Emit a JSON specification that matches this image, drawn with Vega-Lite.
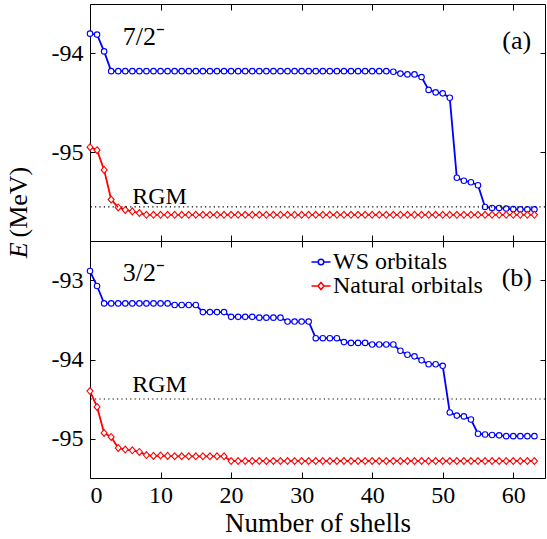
{
  "$schema": "https://vega.github.io/schema/vega-lite/v6.json",
  "autosize": {"type": "pad"},
  "padding": {"left": 5, "top": 3, "right": 0, "bottom": 0},
  "bounds": "flush",
  "spacing": 0,
  "datasets": {
    "a": [
      {"s":"WS orbitals","n":0,"E":-93.8},{"s":"WS orbitals","n":1,"E":-93.81},{"s":"WS orbitals","n":2,"E":-93.98},{"s":"WS orbitals","n":3,"E":-94.18},
      {"s":"WS orbitals","n":4,"E":-94.18},{"s":"WS orbitals","n":5,"E":-94.18},{"s":"WS orbitals","n":6,"E":-94.18},{"s":"WS orbitals","n":7,"E":-94.18},
      {"s":"WS orbitals","n":8,"E":-94.18},{"s":"WS orbitals","n":9,"E":-94.18},{"s":"WS orbitals","n":10,"E":-94.18},{"s":"WS orbitals","n":11,"E":-94.18},
      {"s":"WS orbitals","n":12,"E":-94.18},{"s":"WS orbitals","n":13,"E":-94.18},{"s":"WS orbitals","n":14,"E":-94.18},{"s":"WS orbitals","n":15,"E":-94.18},
      {"s":"WS orbitals","n":16,"E":-94.18},{"s":"WS orbitals","n":17,"E":-94.18},{"s":"WS orbitals","n":18,"E":-94.18},{"s":"WS orbitals","n":19,"E":-94.18},
      {"s":"WS orbitals","n":20,"E":-94.18},{"s":"WS orbitals","n":21,"E":-94.18},{"s":"WS orbitals","n":22,"E":-94.18},{"s":"WS orbitals","n":23,"E":-94.18},
      {"s":"WS orbitals","n":24,"E":-94.18},{"s":"WS orbitals","n":25,"E":-94.18},{"s":"WS orbitals","n":26,"E":-94.18},{"s":"WS orbitals","n":27,"E":-94.18},
      {"s":"WS orbitals","n":28,"E":-94.18},{"s":"WS orbitals","n":29,"E":-94.18},{"s":"WS orbitals","n":30,"E":-94.18},{"s":"WS orbitals","n":31,"E":-94.18},
      {"s":"WS orbitals","n":32,"E":-94.18},{"s":"WS orbitals","n":33,"E":-94.18},{"s":"WS orbitals","n":34,"E":-94.18},{"s":"WS orbitals","n":35,"E":-94.18},
      {"s":"WS orbitals","n":36,"E":-94.18},{"s":"WS orbitals","n":37,"E":-94.18},{"s":"WS orbitals","n":38,"E":-94.18},{"s":"WS orbitals","n":39,"E":-94.18},
      {"s":"WS orbitals","n":40,"E":-94.18},{"s":"WS orbitals","n":41,"E":-94.18},{"s":"WS orbitals","n":42,"E":-94.18},{"s":"WS orbitals","n":43,"E":-94.186},
      {"s":"WS orbitals","n":44,"E":-94.205},{"s":"WS orbitals","n":45,"E":-94.213},{"s":"WS orbitals","n":46,"E":-94.213},{"s":"WS orbitals","n":47,"E":-94.24},
      {"s":"WS orbitals","n":48,"E":-94.37},{"s":"WS orbitals","n":49,"E":-94.395},{"s":"WS orbitals","n":50,"E":-94.405},{"s":"WS orbitals","n":51,"E":-94.45},
      {"s":"WS orbitals","n":52,"E":-95.26},{"s":"WS orbitals","n":53,"E":-95.29},{"s":"WS orbitals","n":54,"E":-95.305},{"s":"WS orbitals","n":55,"E":-95.335},
      {"s":"WS orbitals","n":56,"E":-95.555},{"s":"WS orbitals","n":57,"E":-95.565},{"s":"WS orbitals","n":58,"E":-95.565},{"s":"WS orbitals","n":59,"E":-95.572},
      {"s":"WS orbitals","n":60,"E":-95.577},{"s":"WS orbitals","n":61,"E":-95.58},{"s":"WS orbitals","n":62,"E":-95.58},{"s":"WS orbitals","n":63,"E":-95.58},
      {"s":"Natural orbitals","n":0,"E":-94.95},{"s":"Natural orbitals","n":1,"E":-94.98},{"s":"Natural orbitals","n":2,"E":-95.18},{"s":"Natural orbitals","n":3,"E":-95.48},
      {"s":"Natural orbitals","n":4,"E":-95.56},{"s":"Natural orbitals","n":5,"E":-95.585},{"s":"Natural orbitals","n":6,"E":-95.6},{"s":"Natural orbitals","n":7,"E":-95.617},
      {"s":"Natural orbitals","n":8,"E":-95.635},{"s":"Natural orbitals","n":9,"E":-95.635},{"s":"Natural orbitals","n":10,"E":-95.635},{"s":"Natural orbitals","n":11,"E":-95.635},
      {"s":"Natural orbitals","n":12,"E":-95.635},{"s":"Natural orbitals","n":13,"E":-95.635},{"s":"Natural orbitals","n":14,"E":-95.635},{"s":"Natural orbitals","n":15,"E":-95.635},
      {"s":"Natural orbitals","n":16,"E":-95.635},{"s":"Natural orbitals","n":17,"E":-95.635},{"s":"Natural orbitals","n":18,"E":-95.635},{"s":"Natural orbitals","n":19,"E":-95.635},
      {"s":"Natural orbitals","n":20,"E":-95.635},{"s":"Natural orbitals","n":21,"E":-95.635},{"s":"Natural orbitals","n":22,"E":-95.635},{"s":"Natural orbitals","n":23,"E":-95.635},
      {"s":"Natural orbitals","n":24,"E":-95.635},{"s":"Natural orbitals","n":25,"E":-95.635},{"s":"Natural orbitals","n":26,"E":-95.635},{"s":"Natural orbitals","n":27,"E":-95.635},
      {"s":"Natural orbitals","n":28,"E":-95.635},{"s":"Natural orbitals","n":29,"E":-95.635},{"s":"Natural orbitals","n":30,"E":-95.635},{"s":"Natural orbitals","n":31,"E":-95.635},
      {"s":"Natural orbitals","n":32,"E":-95.635},{"s":"Natural orbitals","n":33,"E":-95.635},{"s":"Natural orbitals","n":34,"E":-95.635},{"s":"Natural orbitals","n":35,"E":-95.635},
      {"s":"Natural orbitals","n":36,"E":-95.635},{"s":"Natural orbitals","n":37,"E":-95.635},{"s":"Natural orbitals","n":38,"E":-95.635},{"s":"Natural orbitals","n":39,"E":-95.635},
      {"s":"Natural orbitals","n":40,"E":-95.635},{"s":"Natural orbitals","n":41,"E":-95.635},{"s":"Natural orbitals","n":42,"E":-95.635},{"s":"Natural orbitals","n":43,"E":-95.635},
      {"s":"Natural orbitals","n":44,"E":-95.635},{"s":"Natural orbitals","n":45,"E":-95.635},{"s":"Natural orbitals","n":46,"E":-95.635},{"s":"Natural orbitals","n":47,"E":-95.635},
      {"s":"Natural orbitals","n":48,"E":-95.635},{"s":"Natural orbitals","n":49,"E":-95.635},{"s":"Natural orbitals","n":50,"E":-95.635},{"s":"Natural orbitals","n":51,"E":-95.635},
      {"s":"Natural orbitals","n":52,"E":-95.635},{"s":"Natural orbitals","n":53,"E":-95.635},{"s":"Natural orbitals","n":54,"E":-95.635},{"s":"Natural orbitals","n":55,"E":-95.635},
      {"s":"Natural orbitals","n":56,"E":-95.635},{"s":"Natural orbitals","n":57,"E":-95.635},{"s":"Natural orbitals","n":58,"E":-95.635},{"s":"Natural orbitals","n":59,"E":-95.635},
      {"s":"Natural orbitals","n":60,"E":-95.635},{"s":"Natural orbitals","n":61,"E":-95.635},{"s":"Natural orbitals","n":62,"E":-95.635},{"s":"Natural orbitals","n":63,"E":-95.635}
    ],
    "b": [
      {"s":"WS orbitals","n":0,"E":-92.88},{"s":"WS orbitals","n":1,"E":-93.07},{"s":"WS orbitals","n":2,"E":-93.29},{"s":"WS orbitals","n":3,"E":-93.29},
      {"s":"WS orbitals","n":4,"E":-93.29},{"s":"WS orbitals","n":5,"E":-93.29},{"s":"WS orbitals","n":6,"E":-93.29},{"s":"WS orbitals","n":7,"E":-93.29},
      {"s":"WS orbitals","n":8,"E":-93.29},{"s":"WS orbitals","n":9,"E":-93.29},{"s":"WS orbitals","n":10,"E":-93.29},{"s":"WS orbitals","n":11,"E":-93.29},
      {"s":"WS orbitals","n":12,"E":-93.31},{"s":"WS orbitals","n":13,"E":-93.31},{"s":"WS orbitals","n":14,"E":-93.31},{"s":"WS orbitals","n":15,"E":-93.31},
      {"s":"WS orbitals","n":16,"E":-93.4},{"s":"WS orbitals","n":17,"E":-93.4},{"s":"WS orbitals","n":18,"E":-93.4},{"s":"WS orbitals","n":19,"E":-93.4},
      {"s":"WS orbitals","n":20,"E":-93.46},{"s":"WS orbitals","n":21,"E":-93.46},{"s":"WS orbitals","n":22,"E":-93.46},{"s":"WS orbitals","n":23,"E":-93.46},
      {"s":"WS orbitals","n":24,"E":-93.47},{"s":"WS orbitals","n":25,"E":-93.47},{"s":"WS orbitals","n":26,"E":-93.47},{"s":"WS orbitals","n":27,"E":-93.47},
      {"s":"WS orbitals","n":28,"E":-93.52},{"s":"WS orbitals","n":29,"E":-93.52},{"s":"WS orbitals","n":30,"E":-93.52},{"s":"WS orbitals","n":31,"E":-93.52},
      {"s":"WS orbitals","n":32,"E":-93.73},{"s":"WS orbitals","n":33,"E":-93.73},{"s":"WS orbitals","n":34,"E":-93.73},{"s":"WS orbitals","n":35,"E":-93.73},
      {"s":"WS orbitals","n":36,"E":-93.78},{"s":"WS orbitals","n":37,"E":-93.79},{"s":"WS orbitals","n":38,"E":-93.79},{"s":"WS orbitals","n":39,"E":-93.79},
      {"s":"WS orbitals","n":40,"E":-93.81},{"s":"WS orbitals","n":41,"E":-93.81},{"s":"WS orbitals","n":42,"E":-93.81},{"s":"WS orbitals","n":43,"E":-93.81},
      {"s":"WS orbitals","n":44,"E":-93.89},{"s":"WS orbitals","n":45,"E":-93.94},{"s":"WS orbitals","n":46,"E":-93.96},{"s":"WS orbitals","n":47,"E":-94.01},
      {"s":"WS orbitals","n":48,"E":-94.06},{"s":"WS orbitals","n":49,"E":-94.06},{"s":"WS orbitals","n":50,"E":-94.08},{"s":"WS orbitals","n":51,"E":-94.67},
      {"s":"WS orbitals","n":52,"E":-94.71},{"s":"WS orbitals","n":53,"E":-94.72},{"s":"WS orbitals","n":54,"E":-94.76},{"s":"WS orbitals","n":55,"E":-94.94},
      {"s":"WS orbitals","n":56,"E":-94.95},{"s":"WS orbitals","n":57,"E":-94.955},{"s":"WS orbitals","n":58,"E":-94.96},{"s":"WS orbitals","n":59,"E":-94.97},
      {"s":"WS orbitals","n":60,"E":-94.97},{"s":"WS orbitals","n":61,"E":-94.97},{"s":"WS orbitals","n":62,"E":-94.97},{"s":"WS orbitals","n":63,"E":-94.97},
      {"s":"Natural orbitals","n":0,"E":-94.4},{"s":"Natural orbitals","n":1,"E":-94.6},{"s":"Natural orbitals","n":2,"E":-94.93},{"s":"Natural orbitals","n":3,"E":-94.98},
      {"s":"Natural orbitals","n":4,"E":-95.12},{"s":"Natural orbitals","n":5,"E":-95.14},{"s":"Natural orbitals","n":6,"E":-95.15},{"s":"Natural orbitals","n":7,"E":-95.17},
      {"s":"Natural orbitals","n":8,"E":-95.21},{"s":"Natural orbitals","n":9,"E":-95.22},{"s":"Natural orbitals","n":10,"E":-95.215},{"s":"Natural orbitals","n":11,"E":-95.22},
      {"s":"Natural orbitals","n":12,"E":-95.225},{"s":"Natural orbitals","n":13,"E":-95.225},{"s":"Natural orbitals","n":14,"E":-95.225},{"s":"Natural orbitals","n":15,"E":-95.225},
      {"s":"Natural orbitals","n":16,"E":-95.225},{"s":"Natural orbitals","n":17,"E":-95.225},{"s":"Natural orbitals","n":18,"E":-95.225},{"s":"Natural orbitals","n":19,"E":-95.225},
      {"s":"Natural orbitals","n":20,"E":-95.285},{"s":"Natural orbitals","n":21,"E":-95.285},{"s":"Natural orbitals","n":22,"E":-95.285},{"s":"Natural orbitals","n":23,"E":-95.285},
      {"s":"Natural orbitals","n":24,"E":-95.285},{"s":"Natural orbitals","n":25,"E":-95.285},{"s":"Natural orbitals","n":26,"E":-95.285},{"s":"Natural orbitals","n":27,"E":-95.285},
      {"s":"Natural orbitals","n":28,"E":-95.285},{"s":"Natural orbitals","n":29,"E":-95.285},{"s":"Natural orbitals","n":30,"E":-95.285},{"s":"Natural orbitals","n":31,"E":-95.285},
      {"s":"Natural orbitals","n":32,"E":-95.285},{"s":"Natural orbitals","n":33,"E":-95.285},{"s":"Natural orbitals","n":34,"E":-95.285},{"s":"Natural orbitals","n":35,"E":-95.285},
      {"s":"Natural orbitals","n":36,"E":-95.285},{"s":"Natural orbitals","n":37,"E":-95.285},{"s":"Natural orbitals","n":38,"E":-95.285},{"s":"Natural orbitals","n":39,"E":-95.285},
      {"s":"Natural orbitals","n":40,"E":-95.285},{"s":"Natural orbitals","n":41,"E":-95.285},{"s":"Natural orbitals","n":42,"E":-95.285},{"s":"Natural orbitals","n":43,"E":-95.285},
      {"s":"Natural orbitals","n":44,"E":-95.285},{"s":"Natural orbitals","n":45,"E":-95.285},{"s":"Natural orbitals","n":46,"E":-95.285},{"s":"Natural orbitals","n":47,"E":-95.285},
      {"s":"Natural orbitals","n":48,"E":-95.285},{"s":"Natural orbitals","n":49,"E":-95.285},{"s":"Natural orbitals","n":50,"E":-95.285},{"s":"Natural orbitals","n":51,"E":-95.285},
      {"s":"Natural orbitals","n":52,"E":-95.285},{"s":"Natural orbitals","n":53,"E":-95.285},{"s":"Natural orbitals","n":54,"E":-95.285},{"s":"Natural orbitals","n":55,"E":-95.285},
      {"s":"Natural orbitals","n":56,"E":-95.285},{"s":"Natural orbitals","n":57,"E":-95.285},{"s":"Natural orbitals","n":58,"E":-95.285},{"s":"Natural orbitals","n":59,"E":-95.285},
      {"s":"Natural orbitals","n":60,"E":-95.285},{"s":"Natural orbitals","n":61,"E":-95.285},{"s":"Natural orbitals","n":62,"E":-95.285},{"s":"Natural orbitals","n":63,"E":-95.285}
    ],
    "rgm": [
      {"panel":"a","E":-95.555},
      {"panel":"b","E":-94.5}
    ],
    "labels": [
      {"panel":"a","x":7.65,"y":-93.915,"label":"7/2⁻"},
      {"panel":"a","x":60.5,"y":-93.955,"label":"(a)"},
      {"panel":"b","x":7.65,"y":-93.006,"label":"3/2⁻"},
      {"panel":"b","x":60.5,"y":-93.07,"label":"(b)"}
    ],
    "rgmlabels": [
      {"panel":"a","x":9.85,"y":-95.526,"label":"RGM"},
      {"panel":"b","x":9.85,"y":-94.411,"label":"RGM"}
    ]
  },
  "vconcat": [
    {
      "width": 455,
      "height": 237,
      "resolve": {"axis": {"x": "independent", "y": "independent"}},
      "layer": [
        {
          "data": {"name": "a"},
          "mark": {"type": "line", "strokeWidth": 1.8},
          "encoding": {
            "x": {"field": "n", "type": "quantitative", "scale": {"domain": [0, 64.5], "nice": false, "zero": false},
                  "axis": {"orient": "bottom", "values": [0,10,20,30,40,50,60], "labels": false, "title": null, "tickSize": -6}},
            "y": {"field": "E", "type": "quantitative", "scale": {"domain": [-95.9, -93.5], "nice": false, "zero": false},
                  "axis": {"orient": "left", "values": [-95, -94], "tickSize": -5, "labelPadding": 12,
                           "labelExpr": "replace(datum.label, '−', '-')",
                           "title": "E", "titleFontStyle": "italic", "titleX": -63.5, "titleY": 253.7, "titleAlign": "left", "titleBaseline": "alphabetic", "titleAngle": -90}},
            "color": {"field": "s", "type": "nominal", "scale": {"domain": ["WS orbitals", "Natural orbitals"], "range": ["#0000ff", "#ff0000"]}, "legend": null}
          }
        },
        {
          "data": {"name": "a"},
          "transform": [{"filter": "datum.s == 'WS orbitals'"}],
          "mark": {"type": "point", "shape": "circle", "filled": false, "fill": "white", "fillOpacity": 1, "size": 30, "strokeWidth": 1.1, "opacity": 1},
          "encoding": {
            "x": {"field": "n", "type": "quantitative", "axis": {"orient": "top", "values": [0,10,20,30,40,50,60], "labels": false, "title": null, "tickSize": -6}},
            "y": {"field": "E", "type": "quantitative", "axis": {"orient": "right", "values": [-95, -94], "labels": false, "title": null, "tickSize": -5}},
            "color": {"field": "s", "type": "nominal", "legend": null}
          }
        },
        {
          "data": {"name": "a"},
          "transform": [{"filter": "datum.s == 'Natural orbitals'"}],
          "mark": {"type": "point", "shape": "M0,-1.25L1.1,0L0,1.25L-1.1,0Z", "filled": false, "fill": "white", "fillOpacity": 1, "size": 30, "strokeWidth": 1.1, "opacity": 1},
          "encoding": {
            "x": {"field": "n", "type": "quantitative", "axis": null},
            "y": {"field": "E", "type": "quantitative", "axis": null},
            "color": {"field": "s", "type": "nominal", "legend": null}
          }
        },
        {
          "data": {"name": "rgm"},
          "transform": [{"filter": "datum.panel == 'a'"}],
          "mark": {"type": "rule", "color": "black", "strokeWidth": 1.2, "strokeDash": [1.2, 3.2]},
          "encoding": {"y": {"field": "E", "type": "quantitative", "axis": null}}
        },
        {
          "data": {"name": "labels"},
          "transform": [{"filter": "datum.panel == 'a'"}],
          "mark": {"type": "text", "fontSize": 26, "font": "Liberation Serif", "align": "center", "baseline": "alphabetic", "color": "black"},
          "encoding": {
            "x": {"field": "x", "type": "quantitative", "axis": null},
            "y": {"field": "y", "type": "quantitative", "axis": null},
            "text": {"field": "label"}
          }
        },
        {
          "data": {"name": "rgmlabels"},
          "transform": [{"filter": "datum.panel == 'a'"}],
          "mark": {"type": "text", "fontSize": 24, "font": "Liberation Serif", "align": "center", "baseline": "alphabetic", "color": "black"},
          "encoding": {
            "x": {"field": "x", "type": "quantitative", "axis": null},
            "y": {"field": "y", "type": "quantitative", "axis": null},
            "text": {"field": "label"}
          }
        }
      ]
    },
    {
      "width": 455,
      "height": 237,
      "resolve": {"axis": {"x": "independent", "y": "independent"}},
      "layer": [
        {
          "data": {"name": "b"},
          "mark": {"type": "line", "strokeWidth": 1.8},
          "encoding": {
            "x": {"field": "n", "type": "quantitative", "scale": {"domain": [0, 64.5], "nice": false, "zero": false},
                  "axis": {"orient": "bottom", "values": [0,10,20,30,40,50,60], "tickSize": -6, "labelPadding": 11, "title": "Number of shells", "titlePadding": 3, "titleFontSize": 27}},
            "y": {"field": "E", "type": "quantitative", "scale": {"domain": [-95.5, -92.5], "nice": false, "zero": false},
                  "axis": {"orient": "left", "values": [-95, -94, -93], "tickSize": -5, "labelPadding": 12,
                           "labelExpr": "replace(datum.label, '−', '-')",
                           "title": "(MeV)", "titleX": -63.5, "titleY": -4, "titleAlign": "left", "titleBaseline": "alphabetic", "titleAngle": -90}},
            "color": {"field": "s", "type": "nominal", "scale": {"domain": ["WS orbitals", "Natural orbitals"], "range": ["#0000ff", "#ff0000"]},
                      "legend": {"orient": "none", "legendX": 219, "legendY": 9, "title": null, "padding": 0, "rowPadding": -1,
                                 "labelFont": "Liberation Serif", "labelFontSize": 24, "labelColor": "black", "labelOffset": 0,
                                 "symbolSize": 361, "symbolStrokeWidth": 1.5,
                                 "encoding": {"symbols": {
                                   "shape": {"value": {"expr": "datum.value == 'WS orbitals' ? 'M-1,0L-0.29,0M0.29,0L1,0M0.29,0A0.29,0.29,0,1,1,-0.29,0A0.29,0.29,0,1,1,0.29,0Z' : 'M-1,0L-0.32,0M0.32,0L1,0M0,-0.37L0.32,0L0,0.37L-0.32,0Z'"}},
                                   "fill": {"value": "white"},
                                   "fillOpacity": {"value": 1}
                                 }}}}
          }
        },
        {
          "data": {"name": "b"},
          "transform": [{"filter": "datum.s == 'WS orbitals'"}],
          "mark": {"type": "point", "shape": "circle", "filled": false, "fill": "white", "fillOpacity": 1, "size": 30, "strokeWidth": 1.1, "opacity": 1},
          "encoding": {
            "x": {"field": "n", "type": "quantitative", "axis": {"orient": "top", "values": [0,10,20,30,40,50,60], "labels": false, "title": null, "tickSize": -6}},
            "y": {"field": "E", "type": "quantitative", "axis": {"orient": "right", "values": [-95, -94, -93], "labels": false, "title": null, "tickSize": -5}},
            "color": {"field": "s", "type": "nominal", "legend": null}
          }
        },
        {
          "data": {"name": "b"},
          "transform": [{"filter": "datum.s == 'Natural orbitals'"}],
          "mark": {"type": "point", "shape": "M0,-1.25L1.1,0L0,1.25L-1.1,0Z", "filled": false, "fill": "white", "fillOpacity": 1, "size": 30, "strokeWidth": 1.1, "opacity": 1},
          "encoding": {
            "x": {"field": "n", "type": "quantitative", "axis": null},
            "y": {"field": "E", "type": "quantitative", "axis": null},
            "color": {"field": "s", "type": "nominal", "legend": null}
          }
        },
        {
          "data": {"name": "rgm"},
          "transform": [{"filter": "datum.panel == 'b'"}],
          "mark": {"type": "rule", "color": "black", "strokeWidth": 1.2, "strokeDash": [1.2, 3.2]},
          "encoding": {"y": {"field": "E", "type": "quantitative", "axis": null}}
        },
        {
          "data": {"name": "labels"},
          "transform": [{"filter": "datum.panel == 'b'"}],
          "mark": {"type": "text", "fontSize": 26, "font": "Liberation Serif", "align": "center", "baseline": "alphabetic", "color": "black"},
          "encoding": {
            "x": {"field": "x", "type": "quantitative", "axis": null},
            "y": {"field": "y", "type": "quantitative", "axis": null},
            "text": {"field": "label"}
          }
        },
        {
          "data": {"name": "rgmlabels"},
          "transform": [{"filter": "datum.panel == 'b'"}],
          "mark": {"type": "text", "fontSize": 24, "font": "Liberation Serif", "align": "center", "baseline": "alphabetic", "color": "black"},
          "encoding": {
            "x": {"field": "x", "type": "quantitative", "axis": null},
            "y": {"field": "y", "type": "quantitative", "axis": null},
            "text": {"field": "label"}
          }
        }
      ]
    }
  ],
  "resolve": {"scale": {"color": "independent"}},
  "config": {
    "font": "Liberation Serif",
    "background": "white",
    "view": {"stroke": "black", "strokeWidth": 1},
    "axis": {"grid": false, "domain": false, "tickColor": "black", "tickWidth": 1,
             "labelColor": "black", "titleColor": "black", "labelFont": "Liberation Serif", "titleFont": "Liberation Serif",
             "labelFontSize": 24, "titleFontSize": 26, "titleFontWeight": "normal"}
  }
}
